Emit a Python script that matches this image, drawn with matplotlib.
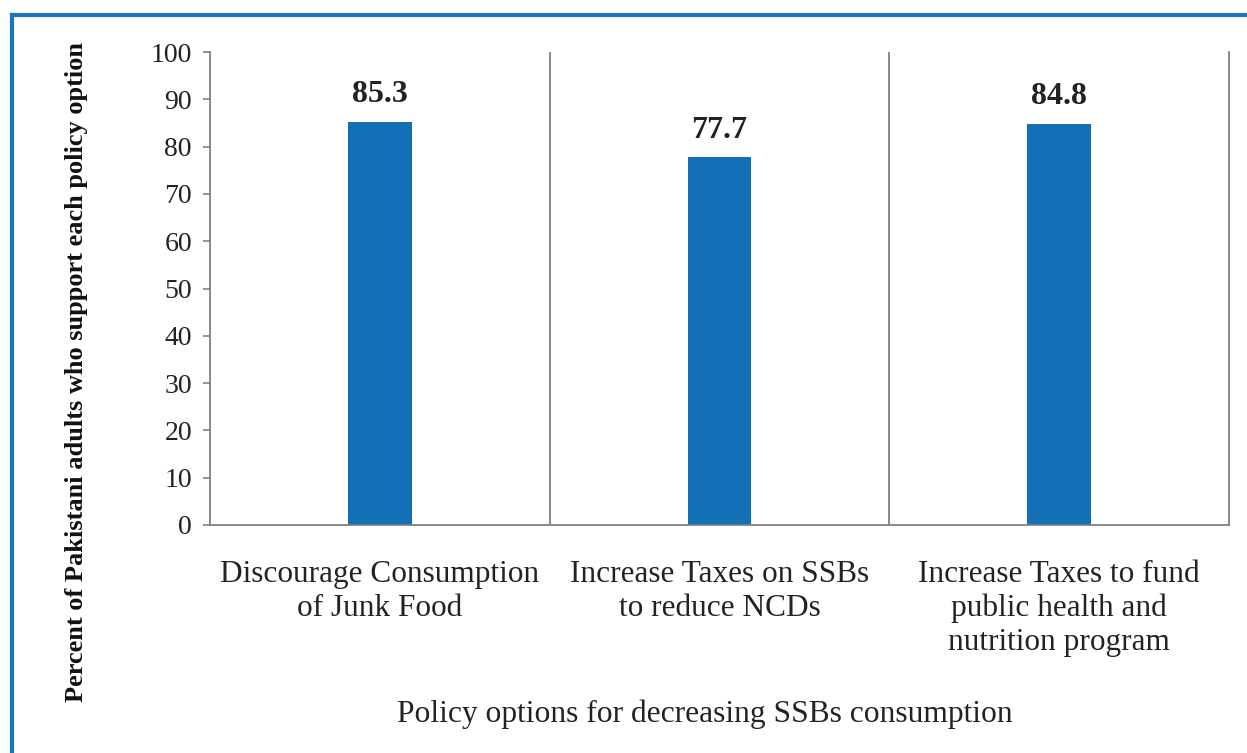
import matplotlib.pyplot as plt
from matplotlib.lines import Line2D

# data
categories = ["Discourage Consumption\nof Junk Food",
              "Increase Taxes on SSBs\nto reduce NCDs",
              "Increase Taxes to fund\npublic health and\nnutrition program"]
values = [85.3, 77.7, 84.8]
labels = ["85.3", "77.7", "84.8"]
yticks = [0, 10, 20, 30, 40, 50, 60, 70, 80, 90, 100]

plt.rcParams['font.family'] = ['Liberation Serif', 'DejaVu Serif']

fig = plt.figure(figsize=(12.47, 7.53), dpi=100)
ax = fig.add_axes([210/1247, 1 - 525/753, (1229 - 210)/1247, (525 - 52)/753])

x = list(range(len(values)))
ax.bar(x, values, width=0.187, color="#136fb6")
for xi, v, t in zip(x, values, labels):
    ax.text(xi, v + 4.2, t, ha="center", va="baseline", fontsize=23, fontweight="bold", color="#222222")

ax.set_xlim(-0.5, 2.5)
ax.set_ylim(0, 100)
ax.set_yticks(yticks)
ax.set_yticklabels([str(t) for t in yticks], fontsize=20, color="#222222")
ax.set_xticks(x)
ax.set_xticklabels([])
ax.tick_params(axis="x", length=0)
ax.tick_params(axis="y", length=5, color="#808080", width=1.2, pad=8)

# category labels
label_top = -(560 - 525)/473
for xi, c in zip(x, categories):
    ax.text(xi, label_top, c, transform=ax.get_xaxis_transform(), ha="center", va="top",
            fontsize=22.5, color="#222222", linespacing=1.22, multialignment="center")

ax.spines["top"].set_visible(False)
for s in ["left", "bottom", "right"]:
    ax.spines[s].set_color("#808080")
    ax.spines[s].set_linewidth(1.3)

# separators between categories
for b in [0.5, 1.5]:
    ax.axvline(b, color="#808080", lw=1.3)

ax.set_ylabel("Percent of Pakistani adults who support each policy option",
              fontsize=19, fontweight="bold", color="#111111")
ax.yaxis.set_label_coords(-122/1019, 0.323)
ax.set_xlabel("Policy options for decreasing SSBs consumption", fontsize=22.7, color="#222222")
ax.xaxis.set_label_coords(495/1019, -(714 - 525)/473)
ax.xaxis.label.set_va("center")

# blue frame
fig.add_artist(Line2D([12/1247, 12/1247], [0, 1 - 15/753], transform=fig.transFigure, color="#1a75bb", lw=3))
fig.add_artist(Line2D([12/1247, 1], [1 - 15/753, 1 - 15/753], transform=fig.transFigure, color="#1a75bb", lw=3))

fig.savefig("out.png", dpi=100)
